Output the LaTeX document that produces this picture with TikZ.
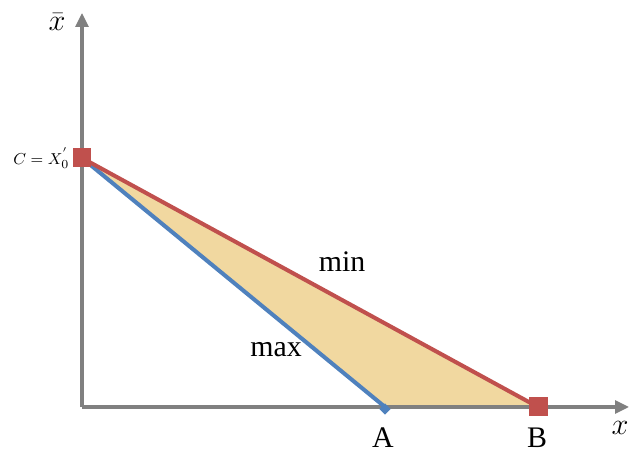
\documentclass[tikz,border=0pt]{standalone}
\usepackage{fontspec}
\setmainfont{Liberation Serif}
\usepackage{amsmath}
\usetikzlibrary{arrows.meta, positioning}
\definecolor{minred}{RGB}{192,80,77}
\definecolor{maxblue}{RGB}{79,129,189}
\definecolor{axisgray}{RGB}{128,128,128}
\definecolor{areatan}{RGB}{241,216,160}

\begin{document}
\begin{tikzpicture}[x=0.02cm, y=0.02cm,
            sq/.style = {rectangle, fill=minred, inner sep=0pt, minimum size=0.38cm},
            dia/.style = {rectangle, rotate=45, fill=maxblue, inner sep=0pt, minimum size=0.16cm},
            lbl/.style = {black, font=\fontsize{17}{20}\selectfont, inner sep=1pt},
            ax/.style = {axisgray, line width=1.8pt, -{Triangle[length=0.28cm, width=0.26cm]}},
            >=latex]
            \useasboundingbox (0,0) rectangle (629,452);
            \coordinate (O) at (82,45);
            \coordinate (Y) at (82,439);
            \coordinate (X) at (629,45);
            \coordinate (C) at (82,294);
            \coordinate (A) at (385,45);
            \coordinate (B) at (538,45);
            % shaded region
            \fill[areatan] (C) -- (A) -- (B) -- cycle;
            % axes
            \draw[ax] (O) -- (Y);
            \draw[ax] (O) -- (X);
            % bounds
            \draw[maxblue, line width=2.3pt] (C) -- (A);
            \draw[minred, line width=2.3pt] (C) -- (B);
            \node[dia] (a) at (385,43) {};
            \node[sq] (c) at (C) {};
            \node[sq] (b) at (B) {};
            \node[lbl] (mx) at (276,102) {max};
            \node[lbl] (mn) at (342,190) {min};
            \node[lbl] (la) at (383,14) {A};
            \node[lbl] (lb) at (537,14) {B};
            \node[lbl] (lx) at (620,24) {$x$};
            \node[lbl] (ly) at (57,430) {$\bar{x}$};
            \node[font=\fontsize{9.5}{11}\selectfont, inner sep=0pt, left=1.5pt of c] (lc) {$C=X_0^{'}$};
        \end{tikzpicture}
\end{document}
